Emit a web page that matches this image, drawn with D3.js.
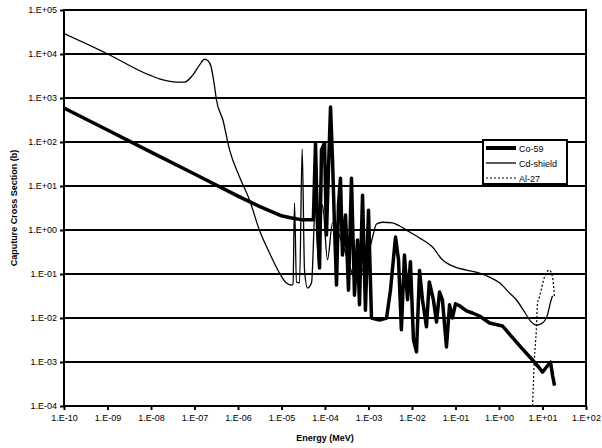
<!DOCTYPE html>
<head>
<meta charset="utf-8">
<title>Capture Cross Section</title>
<script type="text/javascript" src="https://d3js.org/d3.v7.min.js"></script>
<style>
body { margin: 0; background: #fff; }
text { font-family: Arial, "Liberation Sans", sans-serif; }
</style>
</head>
<body>
<div id="chart"></div>

<script>
// data (energy in MeV, cross section in barns)
var co59E = [1e-10,1e-9,1e-8,1e-7,1e-6,3e-6,1e-5,1.6e-5,3e-5,5.4e-5,
  6.05e-5,6.7e-5,7.5e-5,8.3e-5,9.75e-5,1.08e-4,1.2e-4,1.34e-4,1.49e-4,1.65e-4,
  1.84e-4,2.04e-4,2.27e-4,2.52e-4,2.96e-4,3.47e-4,4.06e-4,4.76e-4,5.58e-4,6.2e-4,
  7.3e-4,8.5e-4,1.0e-3,1.17e-3,1.79e-3,2.6e-3,3.2e-3,4.18e-3,4.9e-3,5.7e-3,
  6.7e-3,7.9e-3,9.2e-3,0.0108,0.0127,0.0149,0.0174,0.0215,0.025,0.031,
  0.0366,0.043,0.050,0.062,0.073,0.085,0.1,0.124,0.179,0.246,
  0.356,0.605,1.2,1.74,3.29,5.9,8.5,10,12.4,15.3,17,18.9];
var co59S = [590,187,59,18.7,5.9,3.5,2.1,1.9,1.7,1.7,
  95,1.3,0.137,66,95,0.77,23,624,39,1.3,
  0.056,3.7,15,0.27,2.2,0.043,15,0.033,0.59,0.020,
  6.2,0.015,2.8,0.010,0.009,0.010,0.043,0.69,0.21,0.0054,
  0.27,0.026,0.19,0.0032,0.0017,0.12,0.026,0.0063,0.066,0.026,
  0.0081,0.039,0.026,0.0022,0.020,0.010,0.021,0.019,0.0145,0.013,
  0.0111,0.0077,0.0066,0.0043,0.0021,0.00111,0.00073,0.00059,0.00077,0.001,0.0005,0.00029];

var cdE = [1e-10,9.3e-10,9.3e-9,1.8e-8,3.8e-8,5.9e-8,9.1e-8,1.3e-7,1.7e-7,2.04e-7,
  2.4e-7,2.9e-7,3.2e-7,4.5e-7,6.4e-7,1.08e-6,1.84e-6,3.1e-6,5.3e-6,9.0e-6,
  1.28e-5,1.66e-5,1.84e-5,1.99e-5,2.21e-5,2.6e-5,2.99e-5,3.38e-5,3.96e-5,4.9e-5,
  6.05e-5,7.1e-5,8.8e-5,1.14e-4,1.49e-4,2.8e-4,5.3e-4,8.1e-4,1.05e-3,1.24e-3,
  1.53e-3,2.1e-3,3.56e-3,5.2e-3,8.8e-3,0.0149,0.0296,0.050,0.095,0.179,
  0.356,0.605,1.03,1.74,2.5,3.85,5.3,7.3,10,13,15.3,17];
var cdS = [2.9e4,1.04e4,3.3e3,2.6e3,2.3e3,2.3e3,3.3e3,5.6e3,7.6e3,7.0e3,
  5.2e3,1.8e3,900,316,66,16.3,4.8,1.0,0.30,0.105,
  0.063,0.056,0.059,4.1,0.066,0.063,69,0.123,0.048,0.063,
  4.8,0.16,3.7,0.21,1.45,0.35,0.073,0.16,0.35,0.69,
  1.37,1.5,1.45,1.23,0.9,0.66,0.41,0.21,0.145,0.123,
  0.105,0.085,0.063,0.037,0.026,0.0138,0.0085,0.0069,0.0077,0.0118,0.023,0.032];

var alE = [5.9,6.5,7.2,7.7,8.5,11.1,14.4,17,18.9];
var alS = [1e-4,1.1e-3,5.3e-3,0.022,0.030,0.085,0.123,0.085,0.030];

var xExps = [-10,-9,-8,-7,-6,-5,-4,-3,-2,-1,0,1,2];
var yExps = [-4,-3,-2,-1,0,1,2,3,4,5];

var seriesNames = ["Co-59","Cd-shield","Al-27"];

// set the dimensions
var W = 602, H = 448;
var pLeft = 64, pRight = 586, pTop = 10, pBottom = 406;

var svg = d3.select("#chart")
  .append("svg")
    .attr("width", W)
    .attr("height", H);

//setup scales
var xScale = d3.scaleLog().domain([1e-10, 1e2]).range([pLeft, pRight]);
var yScale = d3.scaleLog().domain([1e-4, 1e5]).range([pBottom, pTop]);

function expLabel(e) {
  var a = Math.abs(e);
  return "1.E" + (e < 0 ? "-" : "+") + (a < 10 ? "0" + a : a);
}

//gridlines
svg.append("g")
  .selectAll("line")
  .data(yExps)
  .enter().append("line")
    .attr("x1", pLeft)
    .attr("x2", pRight)
    .attr("y1", function(d) { return yScale(Math.pow(10, d)); })
    .attr("y2", function(d) { return yScale(Math.pow(10, d)); })
    .attr("stroke", "#000")
    .attr("stroke-width", 2);

//frame
svg.append("rect")
  .attr("x", pLeft).attr("y", pTop)
  .attr("width", pRight - pLeft).attr("height", pBottom - pTop)
  .attr("fill", "none")
  .attr("stroke", "#000")
  .attr("stroke-width", 2);

//X axis
var xAxis = d3.axisBottom(xScale)
  .tickValues(xExps.map(function(e) { return Math.pow(10, e); }))
  .tickFormat(function(d) { return expLabel(Math.round(Math.log10(d))); })
  .tickSizeInner(4).tickSizeOuter(0).tickPadding(5);

var gx = svg.append("g")
  .attr("transform", "translate(0," + pBottom + ")")
  .call(xAxis);
gx.select(".domain").remove();
gx.selectAll(".tick line").attr("stroke", "#000").attr("stroke-width", 2);
gx.selectAll("text").style("font-size", "9px").attr("fill", "#000");

//Y axis
var yAxis = d3.axisLeft(yScale)
  .tickValues(yExps.map(function(e) { return Math.pow(10, e); }))
  .tickFormat(function(d) { return expLabel(Math.round(Math.log10(d))); })
  .tickSizeInner(4).tickSizeOuter(0).tickPadding(3);

var gy = svg.append("g")
  .attr("transform", "translate(" + pLeft + ",0)")
  .call(yAxis);
gy.select(".domain").remove();
gy.selectAll(".tick line").attr("stroke", "#000").attr("stroke-width", 2);
gy.selectAll("text").style("font-size", "9px").attr("fill", "#000");

//axis titles
svg.append("text")
  .attr("x", (pLeft + pRight) / 2)
  .attr("y", 441)
  .attr("text-anchor", "middle")
  .style("font-size", "9px")
  .style("font-weight", "bold")
  .text("Energy (MeV)");

svg.append("text")
  .attr("transform", "translate(17," + ((pTop + pBottom) / 2) + ") rotate(-90)")
  .attr("text-anchor", "middle")
  .style("font-size", "9px")
  .style("font-weight", "bold")
  .text("Caputure Cross Section (b)");

//clip to plot area
svg.append("clipPath").attr("id", "plotclip")
  .append("rect")
  .attr("x", pLeft).attr("y", pTop)
  .attr("width", pRight - pLeft).attr("height", pBottom - pTop);

var smoothLine = d3.line()
  .x(function(d) { return xScale(d[0]); })
  .y(function(d) { return yScale(d[1]); })
  .curve(d3.curveMonotoneX);

var sharpLine = d3.line()
  .x(function(d) { return xScale(d[0]); })
  .y(function(d) { return yScale(d[1]); });

function pairs(E, S) { return E.map(function(e, i) { return [e, S[i]]; }); }

var plot = svg.append("g").attr("clip-path", "url(#plotclip)");

//Cd-shield line
plot.append("path")
  .datum(pairs(cdE, cdS))
  .attr("fill", "none")
  .attr("stroke", "#000")
  .attr("stroke-width", 1.3)
  .attr("stroke-linejoin", "round")
  .attr("d", smoothLine);

//Al-27 line
plot.append("path")
  .datum(pairs(alE, alS))
  .attr("fill", "none")
  .attr("stroke", "#000")
  .attr("stroke-width", 1.2)
  .attr("stroke-dasharray", "2,2")
  .attr("d", smoothLine);

//Co-59 line
plot.append("path")
  .datum(pairs(co59E, co59S))
  .attr("fill", "none")
  .attr("stroke", "#000")
  .attr("stroke-width", 3.5)
  .attr("stroke-linejoin", "round")
  .attr("d", sharpLine);

//legend
var lg = svg.append("g");
lg.append("rect")
  .attr("x", 483).attr("y", 140)
  .attr("width", 84).attr("height", 44)
  .attr("fill", "#fff")
  .attr("stroke", "#000")
  .attr("stroke-width", 2);

var lgStyles = [
  {w: 4, dash: null},
  {w: 1.3, dash: null},
  {w: 1.2, dash: "2,2"}
];
seriesNames.forEach(function(name, i) {
  var yy = 148 + i * 15;
  lg.append("line")
    .attr("x1", 486).attr("x2", 516)
    .attr("y1", yy).attr("y2", yy)
    .attr("stroke", "#000")
    .attr("stroke-width", lgStyles[i].w)
    .attr("stroke-dasharray", lgStyles[i].dash);
  lg.append("text")
    .attr("x", 519).attr("y", yy + 3.5)
    .style("font-size", "9px")
    .text(name);
});
</script>
</body>
